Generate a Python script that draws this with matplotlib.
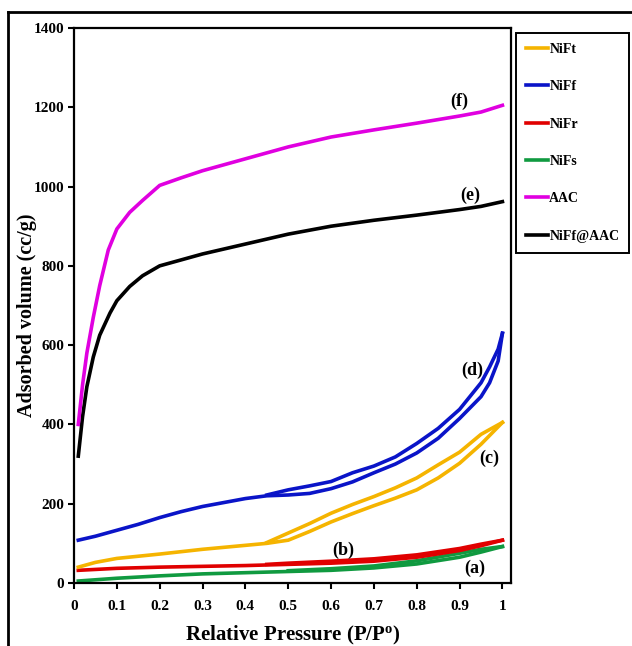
import matplotlib.pyplot as plt
from matplotlib.lines import Line2D

plt.rcParams['font.family'] = ['Liberation Serif', 'DejaVu Serif']
plt.rcParams['font.weight'] = 'bold'
plt.rcParams['mathtext.fontset'] = 'custom'
plt.rcParams['mathtext.bf'] = 'Liberation Serif:bold'
plt.rcParams['mathtext.rm'] = 'Liberation Serif:bold'

# AAC (f)
aac_x = [0.01, 0.02, 0.03, 0.045, 0.06, 0.08, 0.1, 0.13, 0.16, 0.2, 0.25, 0.3, 0.4, 0.5, 0.6, 0.7, 0.8, 0.9, 0.95, 1.0]
aac_y = [400, 500, 580, 670, 750, 840, 893, 935, 965, 1003, 1022, 1040, 1070, 1100, 1125, 1143, 1160, 1178, 1188, 1205]

# NiFf@AAC (e)
nfa_x = [0.01, 0.02, 0.03, 0.045, 0.06, 0.084, 0.1, 0.13, 0.16, 0.2, 0.25, 0.3, 0.4, 0.5, 0.6, 0.7, 0.8, 0.9, 0.95, 1.0]
nfa_y = [320, 420, 495, 570, 625, 681, 712, 748, 775, 800, 815, 830, 855, 880, 900, 915, 928, 942, 950, 962]

# NiFf (d) adsorption + desorption branch
niff_ads_x = [0.01, 0.05, 0.1, 0.15, 0.2, 0.25, 0.3, 0.35, 0.4, 0.45, 0.5, 0.55, 0.6, 0.65, 0.7, 0.75, 0.8, 0.85, 0.9, 0.95, 0.97, 0.99, 1.0]
niff_ads_y = [108, 118, 133, 148, 165, 180, 193, 203, 213, 220, 222, 226, 238, 255, 278, 300, 328, 365, 415, 470, 505, 560, 630]
niff_des_x = [1.0, 0.99, 0.97, 0.95, 0.9, 0.85, 0.8, 0.75, 0.7, 0.65, 0.6, 0.55, 0.5, 0.45]
niff_des_y = [630, 590, 545, 505, 438, 390, 352, 318, 295, 278, 256, 245, 235, 222]

# NiFt (c)
nift_ads_x = [0.01, 0.05, 0.1, 0.2, 0.3, 0.4, 0.45, 0.5, 0.55, 0.6, 0.65, 0.7, 0.75, 0.8, 0.85, 0.9, 0.95, 1.0]
nift_ads_y = [40, 52, 62, 73, 85, 95, 100, 108, 130, 154, 175, 195, 214, 235, 265, 302, 350, 405]
nift_des_x = [1.0, 0.95, 0.9, 0.85, 0.8, 0.75, 0.7, 0.65, 0.6, 0.55, 0.5, 0.45]
nift_des_y = [405, 375, 330, 298, 265, 240, 218, 198, 176, 150, 126, 102]

# NiFr (b)
nifr_ads_x = [0.01, 0.1, 0.2, 0.3, 0.4, 0.5, 0.6, 0.7, 0.8, 0.9, 0.95, 1.0]
nifr_ads_y = [32, 37, 40, 42, 44, 47, 50, 55, 65, 82, 94, 108]
nifr_des_x = [1.0, 0.95, 0.9, 0.8, 0.7, 0.6, 0.5, 0.45]
nifr_des_y = [108, 98, 87, 71, 61, 55, 50, 47]

# NiFs (a)
nifs_ads_x = [0.01, 0.1, 0.2, 0.3, 0.4, 0.5, 0.6, 0.7, 0.8, 0.9, 0.95, 1.0]
nifs_ads_y = [5, 12, 18, 23, 26, 29, 32, 38, 48, 65, 78, 92]
nifs_des_x = [1.0, 0.95, 0.9, 0.8, 0.7, 0.6, 0.5]
nifs_des_y = [92, 85, 75, 56, 43, 36, 31]

names = ['NiFt', 'NiFf', 'NiFr', 'NiFs', 'AAC', 'NiFf@AAC']
colors = ['#f5b400', '#0a14c8', '#e00000', '#109a40', '#e000e0', '#000000']

# curve tags and where they sit
tags = ['(f)', '(e)', '(d)', '(c)', '(b)', '(a)']
tag_x = [0.90, 0.925, 0.93, 0.97, 0.629, 0.935]
tag_y = [1216, 979, 537, 315, 83, 38]

fig = plt.figure(figsize=(6.32, 6.46), dpi=100)
ax = fig.add_axes([74 / 632, 1 - 583 / 646, 437 / 632, 555 / 646])

lw = 2.6
ax.plot(nifs_ads_x, nifs_ads_y, color=colors[3], lw=lw)
ax.plot(nifs_des_x, nifs_des_y, color=colors[3], lw=lw)
ax.plot(nifr_ads_x, nifr_ads_y, color=colors[2], lw=lw)
ax.plot(nifr_des_x, nifr_des_y, color=colors[2], lw=lw)
ax.plot(nift_ads_x, nift_ads_y, color=colors[0], lw=lw)
ax.plot(nift_des_x, nift_des_y, color=colors[0], lw=lw)
ax.plot(niff_ads_x, niff_ads_y, color=colors[1], lw=lw)
ax.plot(niff_des_x, niff_des_y, color=colors[1], lw=lw)
ax.plot(nfa_x, nfa_y, color=colors[5], lw=lw)
ax.plot(aac_x, aac_y, color=colors[4], lw=lw)

ax.set_xlim(0, 1.02)
ax.set_ylim(0, 1400)
ax.set_xticks([i / 10 for i in range(11)])
ax.set_xticklabels(['0', '0.1', '0.2', '0.3', '0.4', '0.5', '0.6', '0.7', '0.8', '0.9', '1'])
ax.set_yticks(range(0, 1401, 200))
ax.tick_params(labelsize=11, width=1.5, length=4, direction='out')
ax.tick_params(axis='x', pad=8)
ax.tick_params(axis='y', pad=3)
for s in ax.spines.values():
    s.set_linewidth(1.6)

ax.set_xlabel('Relative Pressure (P/P$\\mathbf{^{o}}$)', fontsize=15, fontweight='bold', labelpad=8)
ax.set_ylabel('Adsorbed volume (cc/g)', fontsize=14.5, fontweight='bold')
ax.yaxis.set_label_coords(-0.085, 0.483)

for t, tx, ty in zip(tags, tag_x, tag_y):
    ax.text(tx, ty, t, fontsize=13, fontweight='bold', ha='center', va='center')

handles = [Line2D([], [], color=c, lw=2.6) for c in colors]
leg = fig.legend(handles, names, loc='upper left',
                 bbox_to_anchor=(516 / 632, 1 - 33 / 646), bbox_transform=fig.transFigure,
                 prop={'weight': 'bold', 'size': 10}, handlelength=1.6, handletextpad=0.08,
                 labelspacing=1.75, borderpad=0.72, borderaxespad=0, fancybox=False,
                 edgecolor='black', framealpha=1)
leg.get_frame().set_linewidth(1.4)

# outer frame lines (top and left)
fig.add_artist(Line2D([8 / 632, 1], [1 - 12 / 646, 1 - 12 / 646], color='black', lw=2, transform=fig.transFigure))
fig.add_artist(Line2D([8 / 632, 8 / 632], [0, 1 - 12 / 646], color='black', lw=2, transform=fig.transFigure))

fig.savefig('out.png', dpi=100)
